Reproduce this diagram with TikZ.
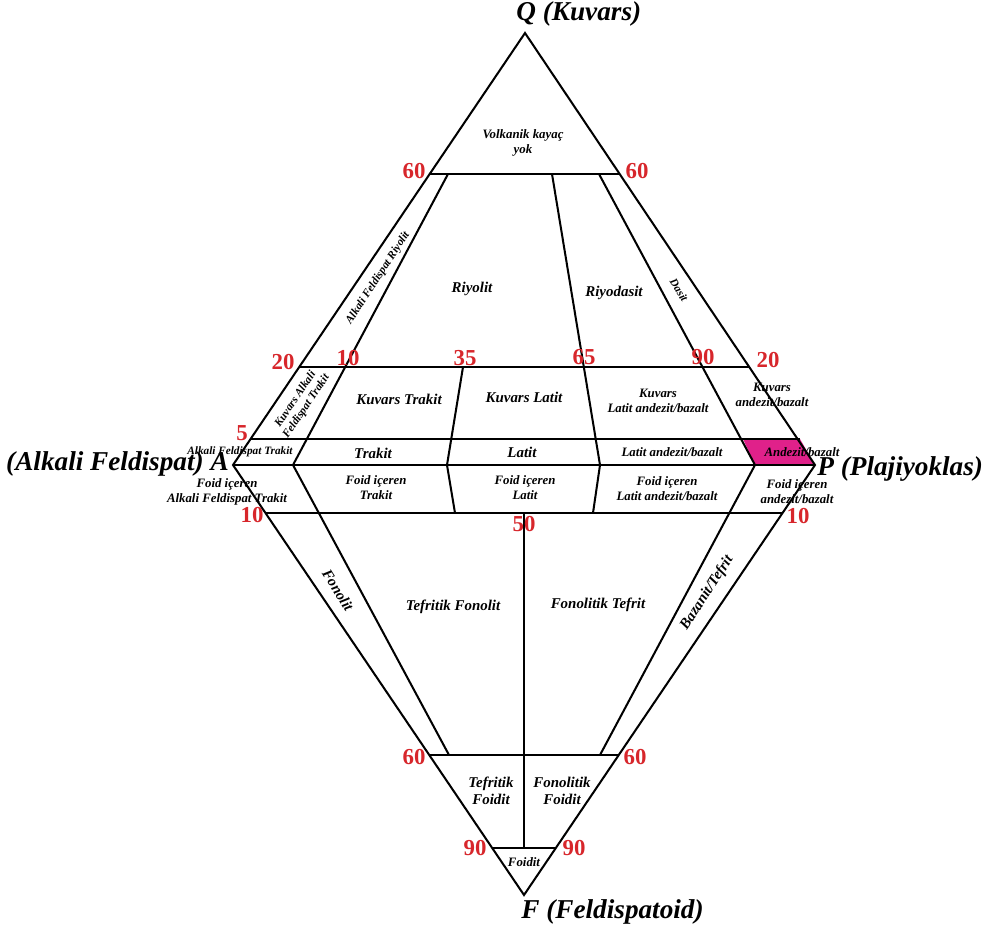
\documentclass[tikz,border=0pt]{standalone}
\usepackage{fontspec}
\setmainfont{Liberation Serif}
\usepackage{tikz}
\usetikzlibrary{calc}
\definecolor{qapfRed}{HTML}{D7262B}
\definecolor{qapfPink}{HTML}{E0218A}

\begin{document}
\begin{tikzpicture}[
  x=0.02cm, y=-0.02cm,
  bnd/.style={line width=1.15pt,line join=miter},
  ttl/.style={font=\fontsize{15.5}{17}\selectfont\bfseries\itshape,inner sep=0pt},
  fld/.style={font=\fontsize{8.5}{9.8}\selectfont\bfseries\itshape,align=center,inner sep=0pt},
  sub/.style={font=\fontsize{7.3}{8.6}\selectfont\bfseries\itshape,align=center,inner sep=0pt},
  sml/.style={font=\fontsize{6.4}{7.4}\selectfont\bfseries\itshape,align=center,inner sep=0pt},
  pct/.style={font=\fontsize{13}{14}\selectfont\bfseries,text=qapfRed,inner sep=0pt}
]
\useasboundingbox (0,0) rectangle (1000,929);

\coordinate (Q) at (525,33);
\coordinate (A) at (233,465);
\coordinate (P) at (815,465);
\coordinate (F) at (524,895);
\coordinate (Q60l) at (430,174);
\coordinate (Q60r) at (620,174);
\coordinate (Q20l) at (300,367);
\coordinate (Q20r) at (750,367);
\coordinate (Q5l) at (250,439);
\coordinate (Q5r) at (800,439);
\coordinate (F10l) at (265,513);
\coordinate (F10r) at (783,513);
\coordinate (F60l) at (429,755);
\coordinate (F60r) at (619,755);
\coordinate (F90l) at (492,848);
\coordinate (F90r) at (556,848);
\coordinate (r10t) at (448,174);
\coordinate (r10b) at (293,465);
\coordinate (fon) at (449,755);
\coordinate (r35t) at (463,367);
\coordinate (r35m) at (447,465);
\coordinate (r35b) at (455,513);
\coordinate (r65t) at (552,174);
\coordinate (r65m) at (600,465);
\coordinate (r65b) at (593,513);
\coordinate (r90t) at (599,174);
\coordinate (r90a) at (743,439);
\coordinate (r90m) at (755,465);
\coordinate (baz) at (600,755);
\coordinate (F50t) at (524,513);
\coordinate (F50b) at (524,848);

\fill[qapfPink] (r90a) -- (Q5r) -- (P) -- (r90m) -- cycle;

\draw[bnd] (Q) -- (P) -- (F) -- (A) -- cycle;
\draw[bnd] (Q60l) -- (Q60r);
\draw[bnd] (Q20l) -- (Q20r);
\draw[bnd] (Q5l) -- (Q5r);
\draw[bnd] (A) -- (P);
\draw[bnd] (F10l) -- (F10r);
\draw[bnd] (F60l) -- (F60r);
\draw[bnd] (F90l) -- (F90r);
\draw[bnd] (r10t) -- (r10b) -- (fon);
\draw[bnd] (r35t) -- (r35m) -- (r35b);
\draw[bnd] (r65t) -- (r65m) -- (r65b);
\draw[bnd] (r90t) -- (r90m) -- (baz);
\draw[bnd] (F50t) -- (F50b);

\node[ttl,anchor=base west] (tQ) at (516,21) {Q (Kuvars)};
\node[ttl,anchor=base east] (tA) at (229,470) {(Alkali Feldispat) A};
\node[ttl,anchor=base west] (tP) at (817,475) {P (Plajiyoklas)};
\node[ttl,anchor=base west] (tF) at (521,918) {F (Feldispatoid)};

\node[sub] (volk) at (523,143) {Volkanik kaya\c{c}\\yok};
\node[sml,rotate=57] (afr) at (378,278) {Alkali Feldispat Riyolit};
\node[fld] (riy) at (472,289) {Riyolit};
\node[fld] (riyd) at (614,293) {Riyodasit};
\node[sml,rotate=-58] (das) at (679,290) {Dasit};
\node[sml,rotate=56] (qaft) at (301,403) {Kuvars Alkali\\Feldispat Trakit};
\node[fld] (qtr) at (399,399) {Kuvars Trakit};
\node[fld] (qlat) at (524,397) {Kuvars Latit};
\node[sub] (qla) at (658,401) {Kuvars\\Latit andezit/bazalt};
\node[sub] (qab) at (772,395) {Kuvars\\andezit/bazalt};
\node[sml] (aft) at (240,452) {Alkali Feldispat Trakit};
\node[fld] (tra) at (373,453) {Trakit};
\node[fld] (lat) at (522,452) {Latit};
\node[sub] (lab) at (672,452) {Latit andezit/bazalt};
\node[sub] (ab) at (802,452) {Andezit/bazalt};
\node[sub] (faft) at (227,492) {Foid i\c{c}eren\\Alkali Feldispat Trakit};
\node[sub] (ftra) at (376,488) {Foid i\c{c}eren\\Trakit};
\node[sub] (flat) at (525,488) {Foid i\c{c}eren\\Latit};
\node[sub] (flab) at (667,489) {Foid i\c{c}eren\\Latit andezit/bazalt};
\node[sub] (fab) at (797,492) {Foid i\c{c}eren\\andezit/bazalt};
\node[fld,rotate=-58] (fono) at (338,590) {Fonolit};
\node[fld] (tfon) at (453,607) {Tefritik Fonolit};
\node[fld] (ftef) at (598,605) {Fonolitik Tefrit};
\node[fld,rotate=57] (bazt) at (707,593) {Bazanit/Tefrit};
\node[fld] (tfoi) at (491,791) {Tefritik\\Foidit};
\node[fld] (ffoi) at (562,791) {Fonolitik\\Foidit};
\node[sub] (foi) at (524,862) {Foidit};

\node[pct] (n60a) at (414,171) {60};
\node[pct] (n60b) at (637,171) {60};
\node[pct] (n20a) at (283,362) {20};
\node[pct] (n10a) at (348,358) {10};
\node[pct] (n35) at (465,358) {35};
\node[pct] (n65) at (584,357) {65};
\node[pct] (n90a) at (703,357) {90};
\node[pct] (n20b) at (768,360) {20};
\node[pct] (n5) at (242,433) {5};
\node[pct] (n10b) at (252,515) {10};
\node[pct] (n50) at (524,524) {50};
\node[pct] (n10c) at (798,516) {10};
\node[pct] (n60c) at (414,757) {60};
\node[pct] (n60d) at (635,757) {60};
\node[pct] (n90b) at (475,848) {90};
\node[pct] (n90c) at (574,848) {90};
\end{tikzpicture}
\end{document}
